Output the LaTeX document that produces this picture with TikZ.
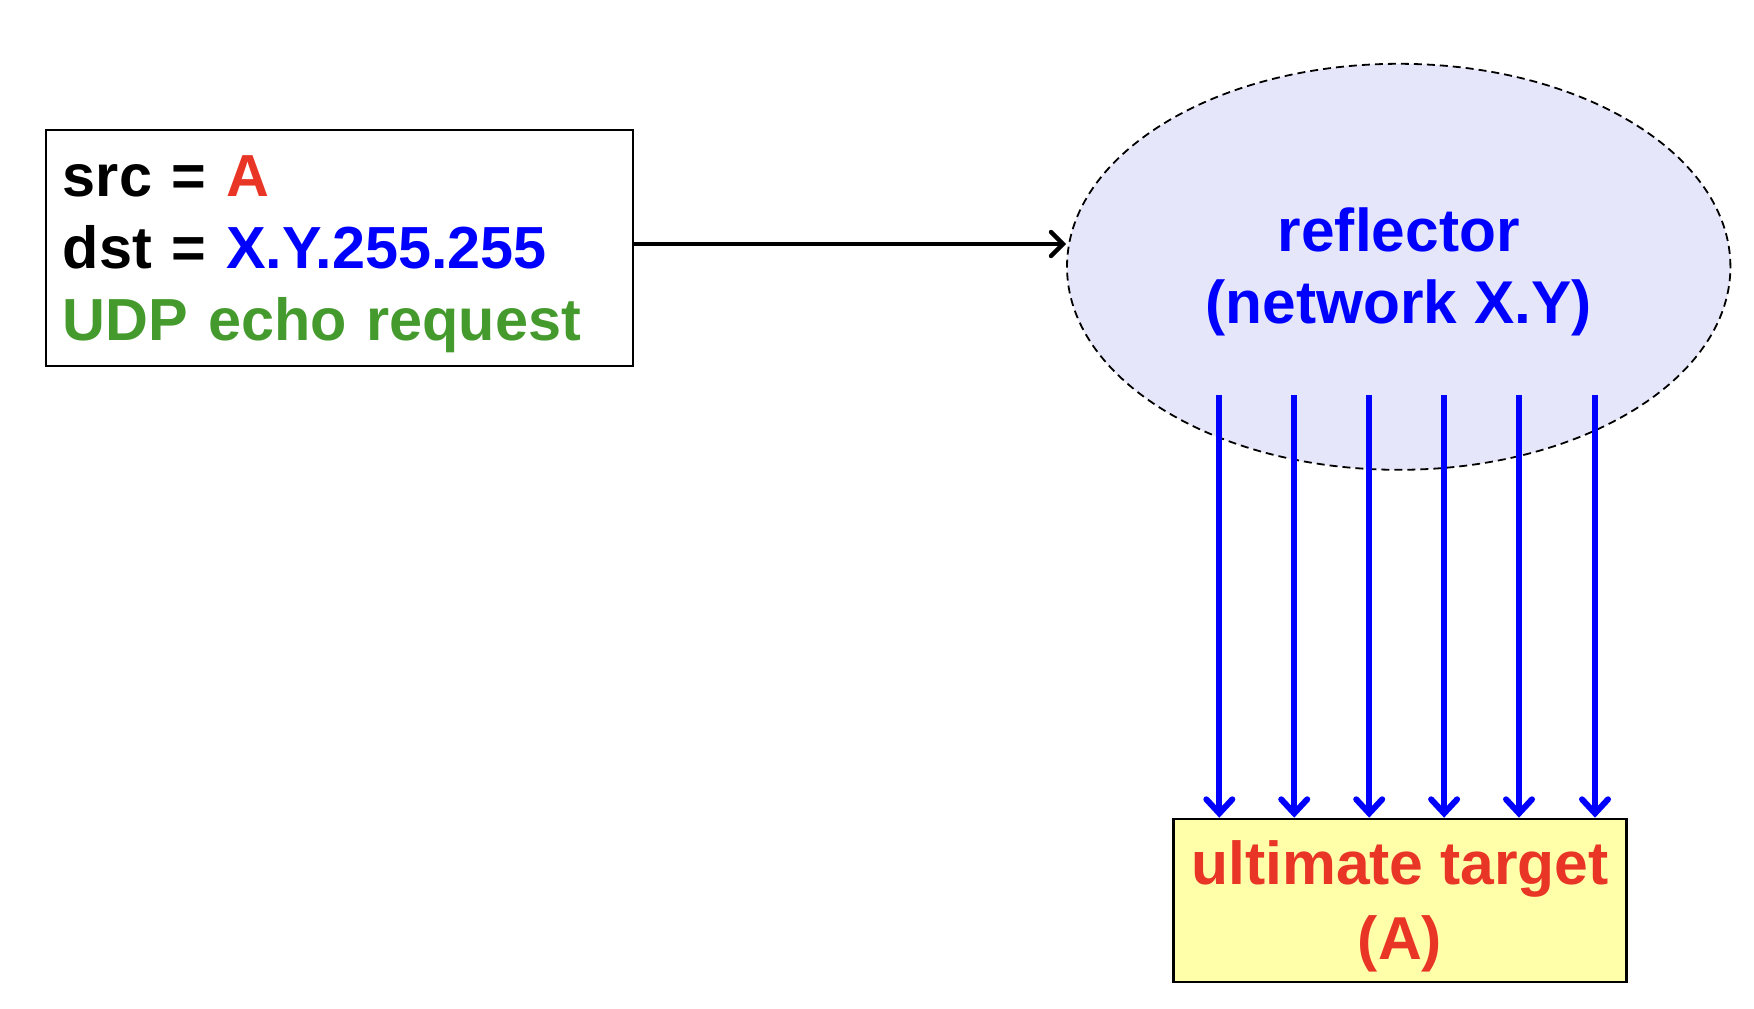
\documentclass[tikz,border=0pt]{standalone}
\usepackage{fontspec}
\setmainfont{Liberation Sans}
\usetikzlibrary{shapes.geometric,arrows.meta}
\definecolor{ared}{RGB}{233,53,38}
\definecolor{agreen}{RGB}{69,154,46}
\definecolor{ablue}{RGB}{0,0,255}
\definecolor{ayellow}{RGB}{255,255,170}
\definecolor{alav}{RGB}{230,230,250}
\newcommand{\topstrut}{\rule{0pt}{27.4pt}}
\tikzset{
  big/.style={font=\fontsize{29.7}{36}\selectfont\bfseries},
  pktbox/.style={draw=black, line width=1pt, rectangle, anchor=north west, align=left,
     text width=276.5pt, inner xsep=8.6pt, inner ysep=0pt, minimum height=118pt, big},
  cloud/.style={ellipse, draw=black, dash pattern=on 4pt off 2.5pt, line width=0.9pt,
     fill=alav, minimum width=331.7pt, minimum height=203pt, inner sep=0pt, align=center,
     font=\fontsize{30.2}{36}\selectfont\bfseries, text=ablue},
  tgtbox/.style={draw=black, line width=1.2pt, fill=ayellow, rectangle, anchor=north west,
     minimum width=226.5pt, minimum height=81.6pt, inner sep=0pt, align=center,
     font=\fontsize{30.3}{37.5}\selectfont\bfseries, text=ared},
  sendarrow/.style={line width=2.2pt, -{Straight Barb[length=6pt,width=12pt,line cap=round]}},
  floodarrow/.style={draw=ablue, line width=3pt, -{Straight Barb[length=7pt,width=13pt,line cap=round]}},
}
\begin{document}
\begin{tikzpicture}[x=0.5pt,y=-0.5pt]
\useasboundingbox (0,0) rectangle (1754,1008);
\node[pktbox] (pkt) at (44.7,128.6)
  {\topstrut src = \textcolor{ared}{A}\\
   dst = \textcolor{ablue}{X.Y.255.255}\\
   \textcolor{agreen}{UDP echo request}};
\node[cloud] (refl) at (1398.7,266.8) {\topstrut reflector\\(network X.Y)};
\node[tgtbox] (tgt) at (1172.3,817.7) {\topstrut ultimate target\\(A)};
\draw[sendarrow] (pkt.east |- 0,244) -- (refl.west |- 0,244);
\foreach \i/\x in {1/1219.3,2/1294.2,3/1369.2,4/1444.1,5/1519,6/1595}{
  \coordinate (s\i) at (\x,395);
  \draw[floodarrow] (s\i) -- (s\i |- tgt.north);
}
\end{tikzpicture}
\end{document}
